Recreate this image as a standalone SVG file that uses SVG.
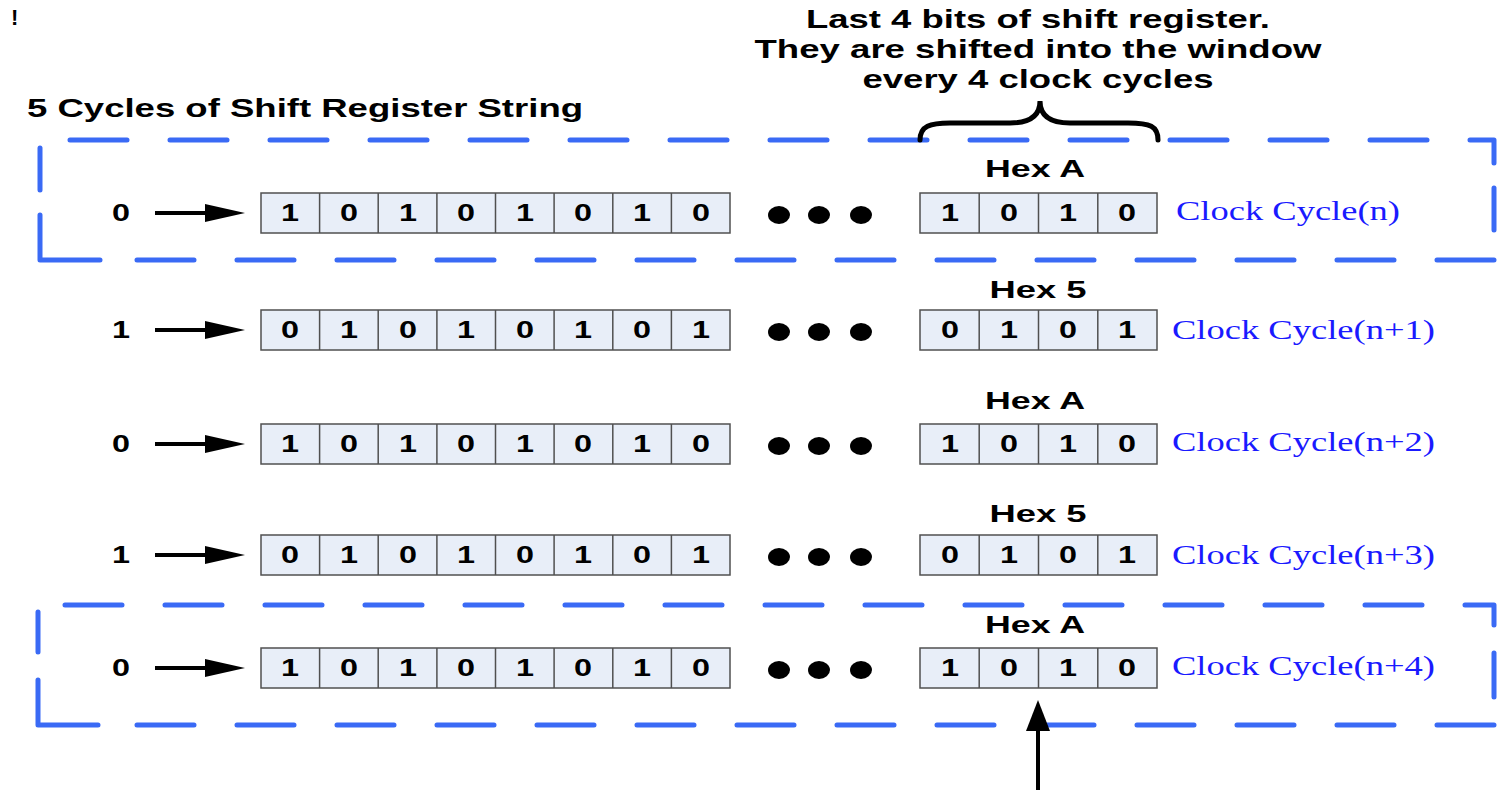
<svg xmlns="http://www.w3.org/2000/svg" width="1499" height="794" viewBox="0 0 1499 794">
<style>
.bx{fill:none;stroke:#3a6af5;stroke-width:5;stroke-dasharray:57 43;stroke-linecap:round;stroke-linejoin:round}
.bs{fill:none;stroke:#3a6af5;stroke-width:5;stroke-linecap:round;stroke-linejoin:round}
.cell{fill:#e8eef8;stroke:#505050;stroke-width:1.5}
.b{font-family:"Liberation Sans",Arial,sans-serif;font-weight:bold;fill:#000}
.bit{font-size:23px;text-anchor:middle}
.hex{font-size:24px;text-anchor:middle}
.clk{font-family:"Liberation Serif","Times New Roman",serif;font-size:27px;fill:#1a1aff}
.ln{stroke:#000;stroke-width:4;fill:none}
</style>
<defs>
<g id="arr"><line class="ln" x1="155" y1="0" x2="210" y2="0"/><polygon points="205,-9 245,0 205,9" fill="#000"/></g>
<path id="div" d="M319.6,-20v40M378.2,-20v40M436.9,-20v40M495.5,-20v40M554.1,-20v40M612.8,-20v40M671.4,-20v40M979.2,-20v40M1038.5,-20v40M1097.8,-20v40" stroke="#505050" stroke-width="1.5"/>
<g id="dots" fill="#000"><ellipse cx="779" cy="2" rx="11" ry="9"/><ellipse cx="819" cy="2" rx="11" ry="9"/><ellipse cx="861" cy="2" rx="11" ry="9"/></g>
</defs>
<text class="b" x="11" y="25" font-size="22">!</text>
<text class="b" x="27" y="117" font-size="25" textLength="556" lengthAdjust="spacingAndGlyphs">5 Cycles of Shift Register String</text>
<g id="note" class="b" font-size="25" text-anchor="middle">
<text x="1038" y="28" textLength="464" lengthAdjust="spacingAndGlyphs">Last 4 bits of shift register.</text>
<text x="1038" y="58" textLength="567" lengthAdjust="spacingAndGlyphs">They are shifted into the window</text>
<text x="1038" y="88" textLength="351" lengthAdjust="spacingAndGlyphs">every 4 clock cycles</text>
</g>
<g id="frame1">
<path class="bx" d="M70,140 H1494 V163"/>
<path class="bs" d="M1494,188 V230"/>
<path class="bx" d="M137,260 H1494"/>
<path class="bs" d="M40,215 V260 H100"/>
<path class="bs" d="M40,148 V190"/>
</g>
<g id="frame2">
<path class="bx" d="M65,605 H1494 V625"/>
<path class="bs" d="M1494,653 V697"/>
<path class="bx" d="M137,725 H1494"/>
<path class="bs" d="M38,680 V725 H98"/>
<path class="bs" d="M38,612 V652"/>
</g>
<g id="connectors">
<use href="#arr" y="213"/>
<use href="#arr" y="330"/>
<use href="#arr" y="444"/>
<use href="#arr" y="555"/>
<use href="#arr" y="668"/>
<path d="M920,140 C920,126 930,123 950,123 L1010,123 C1030,123 1040,116 1040,101 C1040,116 1050,123 1070,123 L1128,123 C1150,123 1158,126 1158,140" fill="none" stroke="#000" stroke-width="5" stroke-linecap="round"/>
<line class="ln" x1="1038" y1="790" x2="1038" y2="725" stroke-width="5"/>
<polygon points="1026,731 1038,700 1050,731" fill="#000"/>
</g>
<g id="row1" transform="translate(0,213)">
<text class="b bit" x="121" y="8" textLength="18" lengthAdjust="spacingAndGlyphs">0</text>
<g class="cell"><rect x="261" y="-20" width="469" height="40"/><rect x="920" y="-20" width="237" height="40"/></g>
<use href="#div"/>
<g class="b bit"><text x="290" y="8" textLength="18" lengthAdjust="spacingAndGlyphs">1</text><text x="349" y="8" textLength="18" lengthAdjust="spacingAndGlyphs">0</text><text x="408" y="8" textLength="18" lengthAdjust="spacingAndGlyphs">1</text><text x="466" y="8" textLength="18" lengthAdjust="spacingAndGlyphs">0</text><text x="525" y="8" textLength="18" lengthAdjust="spacingAndGlyphs">1</text><text x="583" y="8" textLength="18" lengthAdjust="spacingAndGlyphs">0</text><text x="642" y="8" textLength="18" lengthAdjust="spacingAndGlyphs">1</text><text x="701" y="8" textLength="18" lengthAdjust="spacingAndGlyphs">0</text>
<text x="950" y="8" textLength="18" lengthAdjust="spacingAndGlyphs">1</text><text x="1009" y="8" textLength="18" lengthAdjust="spacingAndGlyphs">0</text><text x="1068" y="8" textLength="18" lengthAdjust="spacingAndGlyphs">1</text><text x="1127" y="8" textLength="18" lengthAdjust="spacingAndGlyphs">0</text></g>
<use href="#dots"/>
<text class="b hex" x="1035" y="-36" textLength="100" lengthAdjust="spacingAndGlyphs">Hex A</text>
<text class="clk" x="1176" y="7" textLength="224" lengthAdjust="spacingAndGlyphs">Clock Cycle(n)</text>
</g>
<g id="row2" transform="translate(0,330)">
<text class="b bit" x="121" y="8" textLength="18" lengthAdjust="spacingAndGlyphs">1</text>
<g class="cell"><rect x="261" y="-20" width="469" height="40"/><rect x="920" y="-20" width="237" height="40"/></g>
<use href="#div"/>
<g class="b bit"><text x="290" y="8" textLength="18" lengthAdjust="spacingAndGlyphs">0</text><text x="349" y="8" textLength="18" lengthAdjust="spacingAndGlyphs">1</text><text x="408" y="8" textLength="18" lengthAdjust="spacingAndGlyphs">0</text><text x="466" y="8" textLength="18" lengthAdjust="spacingAndGlyphs">1</text><text x="525" y="8" textLength="18" lengthAdjust="spacingAndGlyphs">0</text><text x="583" y="8" textLength="18" lengthAdjust="spacingAndGlyphs">1</text><text x="642" y="8" textLength="18" lengthAdjust="spacingAndGlyphs">0</text><text x="701" y="8" textLength="18" lengthAdjust="spacingAndGlyphs">1</text>
<text x="950" y="8" textLength="18" lengthAdjust="spacingAndGlyphs">0</text><text x="1009" y="8" textLength="18" lengthAdjust="spacingAndGlyphs">1</text><text x="1068" y="8" textLength="18" lengthAdjust="spacingAndGlyphs">0</text><text x="1127" y="8" textLength="18" lengthAdjust="spacingAndGlyphs">1</text></g>
<use href="#dots"/>
<text class="b hex" x="1038" y="-32" textLength="97" lengthAdjust="spacingAndGlyphs">Hex 5</text>
<text class="clk" x="1172" y="9" textLength="263" lengthAdjust="spacingAndGlyphs">Clock Cycle(n+1)</text>
</g>
<g id="row3" transform="translate(0,444)">
<text class="b bit" x="121" y="8" textLength="18" lengthAdjust="spacingAndGlyphs">0</text>
<g class="cell"><rect x="261" y="-20" width="469" height="40"/><rect x="920" y="-20" width="237" height="40"/></g>
<use href="#div"/>
<g class="b bit"><text x="290" y="8" textLength="18" lengthAdjust="spacingAndGlyphs">1</text><text x="349" y="8" textLength="18" lengthAdjust="spacingAndGlyphs">0</text><text x="408" y="8" textLength="18" lengthAdjust="spacingAndGlyphs">1</text><text x="466" y="8" textLength="18" lengthAdjust="spacingAndGlyphs">0</text><text x="525" y="8" textLength="18" lengthAdjust="spacingAndGlyphs">1</text><text x="583" y="8" textLength="18" lengthAdjust="spacingAndGlyphs">0</text><text x="642" y="8" textLength="18" lengthAdjust="spacingAndGlyphs">1</text><text x="701" y="8" textLength="18" lengthAdjust="spacingAndGlyphs">0</text>
<text x="950" y="8" textLength="18" lengthAdjust="spacingAndGlyphs">1</text><text x="1009" y="8" textLength="18" lengthAdjust="spacingAndGlyphs">0</text><text x="1068" y="8" textLength="18" lengthAdjust="spacingAndGlyphs">1</text><text x="1127" y="8" textLength="18" lengthAdjust="spacingAndGlyphs">0</text></g>
<use href="#dots"/>
<text class="b hex" x="1035" y="-35" textLength="100" lengthAdjust="spacingAndGlyphs">Hex A</text>
<text class="clk" x="1172" y="7" textLength="263" lengthAdjust="spacingAndGlyphs">Clock Cycle(n+2)</text>
</g>
<g id="row4" transform="translate(0,555)">
<text class="b bit" x="121" y="8" textLength="18" lengthAdjust="spacingAndGlyphs">1</text>
<g class="cell"><rect x="261" y="-20" width="469" height="40"/><rect x="920" y="-20" width="237" height="40"/></g>
<use href="#div"/>
<g class="b bit"><text x="290" y="8" textLength="18" lengthAdjust="spacingAndGlyphs">0</text><text x="349" y="8" textLength="18" lengthAdjust="spacingAndGlyphs">1</text><text x="408" y="8" textLength="18" lengthAdjust="spacingAndGlyphs">0</text><text x="466" y="8" textLength="18" lengthAdjust="spacingAndGlyphs">1</text><text x="525" y="8" textLength="18" lengthAdjust="spacingAndGlyphs">0</text><text x="583" y="8" textLength="18" lengthAdjust="spacingAndGlyphs">1</text><text x="642" y="8" textLength="18" lengthAdjust="spacingAndGlyphs">0</text><text x="701" y="8" textLength="18" lengthAdjust="spacingAndGlyphs">1</text>
<text x="950" y="8" textLength="18" lengthAdjust="spacingAndGlyphs">0</text><text x="1009" y="8" textLength="18" lengthAdjust="spacingAndGlyphs">1</text><text x="1068" y="8" textLength="18" lengthAdjust="spacingAndGlyphs">0</text><text x="1127" y="8" textLength="18" lengthAdjust="spacingAndGlyphs">1</text></g>
<use href="#dots"/>
<text class="b hex" x="1038" y="-33" textLength="97" lengthAdjust="spacingAndGlyphs">Hex 5</text>
<text class="clk" x="1172" y="9" textLength="263" lengthAdjust="spacingAndGlyphs">Clock Cycle(n+3)</text>
</g>
<g id="row5" transform="translate(0,668)">
<text class="b bit" x="121" y="8" textLength="18" lengthAdjust="spacingAndGlyphs">0</text>
<g class="cell"><rect x="261" y="-20" width="469" height="40"/><rect x="920" y="-20" width="237" height="40"/></g>
<use href="#div"/>
<g class="b bit"><text x="290" y="8" textLength="18" lengthAdjust="spacingAndGlyphs">1</text><text x="349" y="8" textLength="18" lengthAdjust="spacingAndGlyphs">0</text><text x="408" y="8" textLength="18" lengthAdjust="spacingAndGlyphs">1</text><text x="466" y="8" textLength="18" lengthAdjust="spacingAndGlyphs">0</text><text x="525" y="8" textLength="18" lengthAdjust="spacingAndGlyphs">1</text><text x="583" y="8" textLength="18" lengthAdjust="spacingAndGlyphs">0</text><text x="642" y="8" textLength="18" lengthAdjust="spacingAndGlyphs">1</text><text x="701" y="8" textLength="18" lengthAdjust="spacingAndGlyphs">0</text>
<text x="950" y="8" textLength="18" lengthAdjust="spacingAndGlyphs">1</text><text x="1009" y="8" textLength="18" lengthAdjust="spacingAndGlyphs">0</text><text x="1068" y="8" textLength="18" lengthAdjust="spacingAndGlyphs">1</text><text x="1127" y="8" textLength="18" lengthAdjust="spacingAndGlyphs">0</text></g>
<use href="#dots"/>
<text class="b hex" x="1035" y="-35" textLength="100" lengthAdjust="spacingAndGlyphs">Hex A</text>
<text class="clk" x="1172" y="7" textLength="263" lengthAdjust="spacingAndGlyphs">Clock Cycle(n+4)</text>
</g>
</svg>
